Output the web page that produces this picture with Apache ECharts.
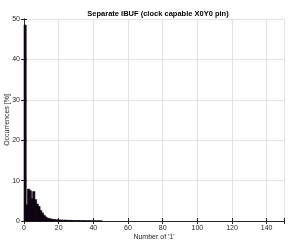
<!DOCTYPE html>
<html><head><meta charset="utf-8">
<script src="https://cdn.jsdelivr.net/npm/echarts@6/dist/echarts.min.js"></script>
<style>html,body{margin:0;padding:0;background:#fff}#c{width:290px;height:245px}</style>
</head><body><div id="c"></div>
<script>
const titleText = "Separate IBUF (clock capable X0Y0 pin)";
const xLabel = "Number of '1'";
const yLabel = "Occurrences [%]";
const xTicks = [0, 20, 40, 60, 80, 100, 120, 140];
const yTicks = [0, 10, 20, 30, 40, 50];
// histogram bin counts (%) for bins [i, i+1)
const binValues = [48.5, 4.0, 7.9, 7.5, 5.5, 7.3, 5.3, 4.2, 3.6, 2.6, 2.0, 1.4, 1.0, 0.7, 0.6, 0.5, 0.4, 0.35, 0.3, 0.3,
  0.25, 0.25, 0.2, 0.2, 0.2, 0.15, 0.15, 0.15, 0.1, 0.1, 0.1, 0.1, 0.08, 0.08, 0.06, 0.05, 0.05, 0.05, 0.04, 0.03,
  0.03, 0.02, 0.02, 0.02, 0.01];

const data = binValues.map((v, i) => [i, v]);
const font = "Liberation Sans, Arial, sans-serif";
const chart = echarts.init(document.getElementById('c'), null, {renderer: 'canvas'});
const axisCommon = {
  axisLine: {show: true, lineStyle: {color: '#262626', width: 1}},
  axisTick: {show: true, inside: true, length: 3, lineStyle: {color: '#262626'}},
};
chart.setOption({
  animation: false,
  title: {text: titleText, left: 153, top: 5, textAlign: 'center',
    textStyle: {fontFamily: font, fontSize: 7.5, fontWeight: 'bold', color: '#000'}},
  grid: {left: 24, top: 19, right: 6, bottom: 24, show: false, containLabel: false, outerBoundsMode: 'none'},
  xAxis: [{
    type: 'value', min: 0, max: 150, interval: 20, position: 'bottom',
    name: xLabel, nameLocation: 'middle', nameGap: 13, nameMoveOverlap: false,
    nameTextStyle: {fontFamily: font, fontSize: 7, color: '#262626'},
    ...axisCommon,
    axisLabel: {fontFamily: font, fontSize: 7, color: '#262626', margin: 4,
      formatter: v => xTicks.includes(v) ? String(v) : ''},
    splitLine: {show: true, lineStyle: {color: '#e3e3e3', width: 1}}
  }, {
    type: 'value', min: 0, max: 150, interval: 20, position: 'top',
    ...axisCommon, axisLabel: {show: false}, splitLine: {show: false}
  }],
  yAxis: [{
    type: 'value', min: 0, max: 50, interval: 10, position: 'left',
    name: yLabel, nameLocation: 'middle', nameGap: 17, nameMoveOverlap: false,
    nameTextStyle: {fontFamily: font, fontSize: 7, color: '#262626', verticalAlign: 'middle', padding: 0},
    ...axisCommon,
    axisLabel: {fontFamily: font, fontSize: 7, color: '#262626', margin: 4,
      formatter: v => yTicks.includes(v) ? String(v) : ''},
    splitLine: {show: true, lineStyle: {color: '#e3e3e3', width: 1}}
  }, {
    type: 'value', min: 0, max: 50, interval: 10, position: 'right',
    ...axisCommon, axisLabel: {show: false}, splitLine: {show: false}
  }],
  series: [{
    type: 'custom',
    xAxisIndex: 0, yAxisIndex: 0,
    data: data,
    encode: {x: 0, y: 1},
    renderItem: function (params, api) {
      const x = api.value(0), v = api.value(1);
      const p0 = api.coord([x, v]);
      const p1 = api.coord([x + 1, 0]);
      return {type: 'rect',
        shape: {x: p0[0], y: p0[1], width: p1[0] - p0[0] + 0.5, height: p1[1] - p0[1]},
        style: {fill: '#0e0412', stroke: '#0e0412', lineWidth: 0.6}};
    }
  }]
});
</script></body></html>
